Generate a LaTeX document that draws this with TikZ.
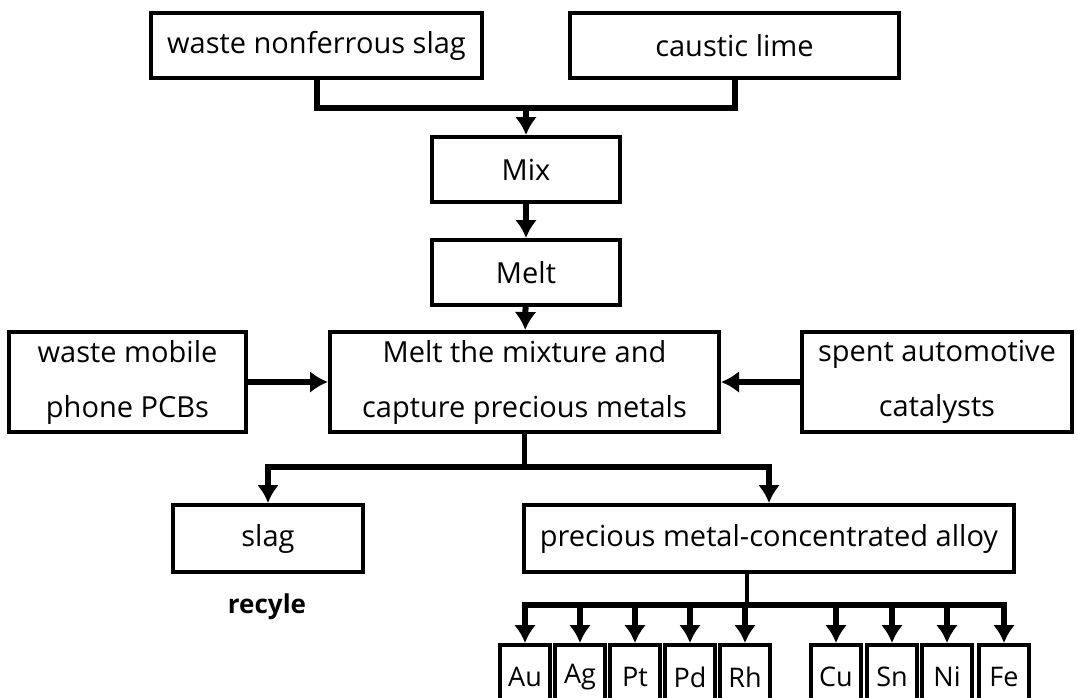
\documentclass[tikz,border=0pt]{standalone}
\usepackage{fontspec}
\setmainfont{Open Sans}
\usetikzlibrary{arrows.meta,positioning,calc}

\begin{document}
\begin{tikzpicture}[x=1pt,y=-1pt,
  box/.style={draw,line width=4pt,inner sep=0pt,align=center,
    font=\fontsize{29}{55}\selectfont},
  elem/.style={box,minimum width=50pt,minimum height=64pt,font=\fontsize{27}{30}\selectfont},
  link/.style={line width=6pt,line join=miter},
  stem/.style={line width=4.5pt},
  arr/.style={link,-{Latex[length=18pt,width=22pt]}}]
\useasboundingbox (0,0) rectangle (1077,697);
\clip (0,0) rectangle (1077,697);

% raw materials and first steps
\node[box,minimum width=331pt,minimum height=65pt] (slagin) at (316.5,45.5) {waste nonferrous slag};
\node[box,minimum width=329pt,minimum height=65pt] (lime) at (734.5,45.5) {caustic lime};
\node[box,minimum width=188pt,minimum height=65pt] (mix) at (526,169.5) {Mix};
\node[box,minimum width=188pt,minimum height=65pt] (melt) at (526,272.5) {Melt};
\coordinate (topbus) at (526,108);
\draw[link] (slagin.south) |- (topbus) -| (lime.south);
\draw[arr] (topbus) -- (mix.north);
\draw[arr] (mix) -- (melt);

% capture step with the two feeds
\node[box,minimum width=389pt,minimum height=100pt] (capture) at (524.5,382) {Melt the mixture and\\capture precious metals};
\node[box,minimum width=237pt,minimum height=100pt] (pcb) at (127.5,382) {waste mobile\\phone PCBs};
\node[box,minimum width=270pt,minimum height=100pt] (cat) at (937,382) {spent automotive\\catalysts};
\draw[arr] (melt) -- (capture);
\draw[arr] (pcb) -- (capture);
\draw[arr] (cat) -- (capture);

% products
\node[box,minimum width=190pt,minimum height=67pt] (slag) at (268,538.5) {slag};
\node[font=\fontsize{26}{30}\selectfont\bfseries] (recyle) at (267,607) {recyle};
\node[box,minimum width=490pt,minimum height=67pt] (alloy) at (769,538.5) {precious metal-concentrated alloy};
\coordinate (midbus) at (524.5,467);
\draw[stem] (capture.south) -- (midbus);
\draw[arr] (midbus) -| (slag.north);
\draw[arr] (midbus) -| (alloy.north);

% separated metals
\foreach \m/\x in {Au/525,Ag/580,Pt/635,Pd/690,Rh/745,Cu/836,Sn/892,Ni/947,Fe/1004}
  \node[elem] (\m) at (\x,677) {\m};
\coordinate (lowbus) at (747,605);
\draw[stem] (alloy.south -| lowbus) -- (lowbus);
\foreach \m in {Au,Ag,Pt,Pd,Rh,Cu,Sn,Ni,Fe}
  \draw[arr] (lowbus) -| (\m.north);
\end{tikzpicture}
\end{document}
